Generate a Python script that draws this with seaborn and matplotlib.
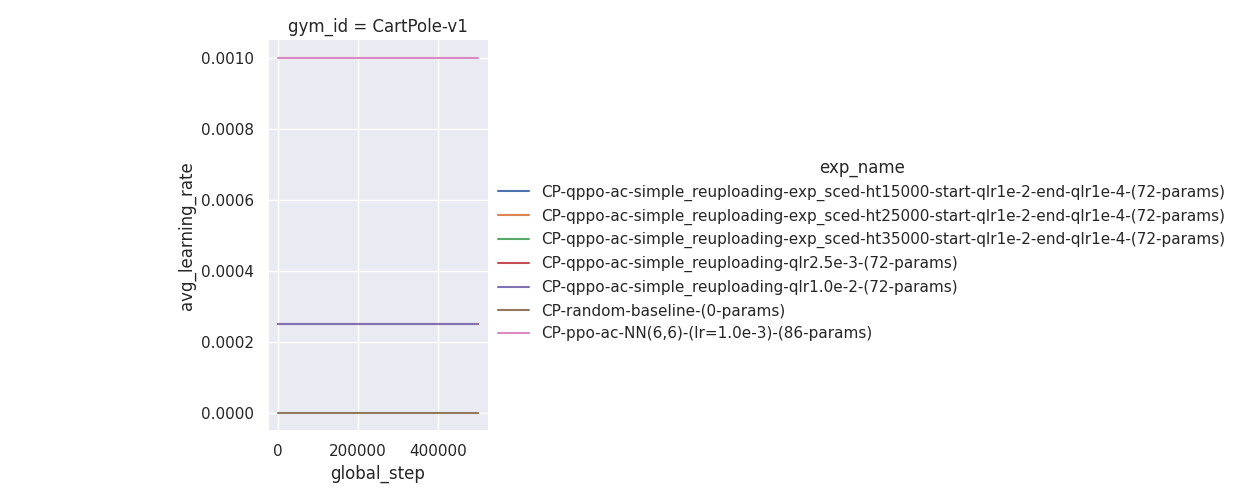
import numpy as np
import pandas as pd
import matplotlib
matplotlib.use("Agg")
import matplotlib.pyplot as plt
import seaborn as sns

sns.set_theme()

exp_names = [
    "CP-qppo-ac-simple_reuploading-exp_sced-ht15000-start-qlr1e-2-end-qlr1e-4-(72-params)",
    "CP-qppo-ac-simple_reuploading-exp_sced-ht25000-start-qlr1e-2-end-qlr1e-4-(72-params)",
    "CP-qppo-ac-simple_reuploading-exp_sced-ht35000-start-qlr1e-2-end-qlr1e-4-(72-params)",
    "CP-qppo-ac-simple_reuploading-qlr2.5e-3-(72-params)",
    "CP-qppo-ac-simple_reuploading-qlr1.0e-2-(72-params)",
    "CP-random-baseline-(0-params)",
    "CP-ppo-ac-NN(6,6)-(lr=1.0e-3)-(86-params)",
]
# avg learning rate per run (constant over training); scheduled runs not logged
learning_rates = [np.nan, np.nan, np.nan, 0.00025, 0.00025, 0.0, 0.001]
global_steps = [0, 100000, 200000, 300000, 400000, 500000]

rows = []
for name, lr in zip(exp_names, learning_rates):
    for step in global_steps:
        rows.append({"gym_id": "CartPole-v1", "exp_name": name,
                     "global_step": step, "avg_learning_rate": lr})
df = pd.DataFrame(rows)

g = sns.relplot(data=df, x="global_step", y="avg_learning_rate",
                hue="exp_name", hue_order=exp_names, col="gym_id", kind="line",
                height=5, aspect=2.5)
g.fig.set_size_inches(12.39, 5)
g.fig.subplots_adjust(left=0.216, right=0.394, top=0.92, bottom=0.139)
sns.move_legend(g, "center left", bbox_to_anchor=(0.391, 0.5))
g.fig.savefig("out.png", dpi=100)
